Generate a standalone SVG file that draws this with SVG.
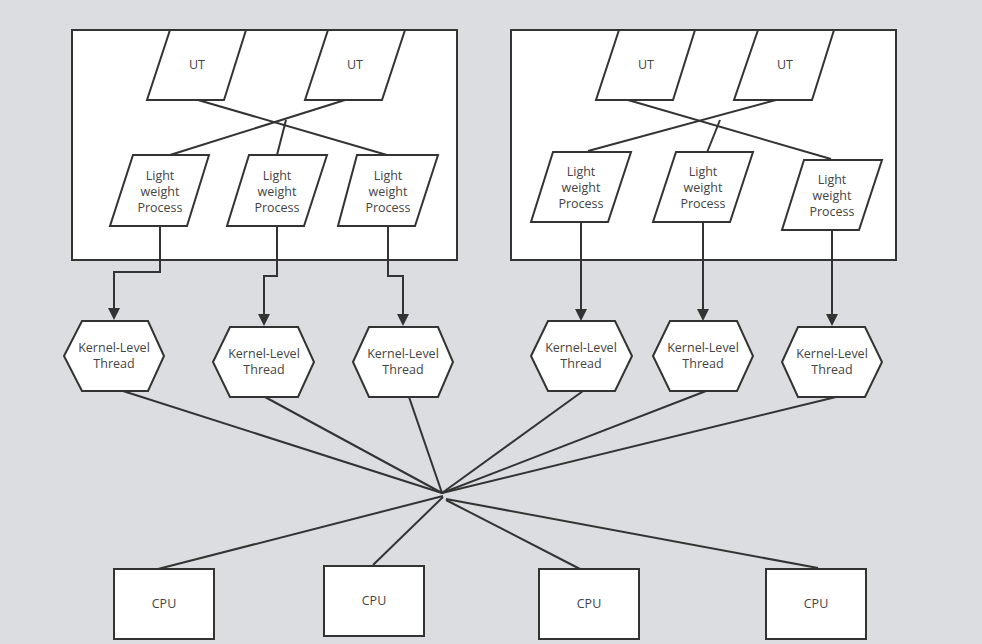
<svg xmlns="http://www.w3.org/2000/svg" width="982" height="644" viewBox="0 0 982 644">
<defs>
<style>
.s{fill:#fff;stroke:#333;stroke-width:2}
.c{fill:none;stroke:#333;stroke-width:2}
.a{fill:#333}
text{font-family:"Open Sans","Noto Sans","DejaVu Sans",sans-serif;font-size:12.5px;fill:#444;text-anchor:middle}
</style>
</defs>
<rect width="982" height="644" fill="#dcdde1"/>
<g id="container-left"><rect class="s" x="72" y="30" width="385" height="230"/></g>
<g id="container-right"><rect class="s" x="511" y="30" width="385" height="230"/></g>

<g id="connectors">
<path class="c" d="M198,100 L387,155"/>
<path class="c" d="M345,100 L170,155"/>
<path class="c" d="M286,120 L277,155"/>
<path class="c" d="M628,100 L831,159"/>
<path class="c" d="M776,100 L588,151"/>
<path class="c" d="M720,120 L706,155"/>
<path class="c" d="M160,226 V272 H114 V309"/>
<path class="c" d="M277,226 V276 H264 V315"/>
<path class="c" d="M388,226 V276 H403 V315"/>
<path class="c" d="M581,222 V310"/>
<path class="c" d="M703,222 V310"/>
<path class="c" d="M832,230 V315"/>
<path class="a" d="M108,308 L120,308 L114,320 Z"/>
<path class="a" d="M258,314 L270,314 L264,326 Z"/>
<path class="a" d="M397,314 L409,314 L403,326 Z"/>
<path class="a" d="M575,309 L587,309 L581,321 Z"/>
<path class="a" d="M697,309 L709,309 L703,321 Z"/>
<path class="a" d="M826,314 L838,314 L832,326 Z"/>
<path class="c" d="M123,391 L442,493"/>
<path class="c" d="M265,397 L442,493"/>
<path class="c" d="M409,397 L442,493"/>
<path class="c" d="M583,391 L442,493"/>
<path class="c" d="M706,391 L442,493"/>
<path class="c" d="M836,397 L442,493"/>
<path class="c" d="M158,569 L443,496"/>
<path class="c" d="M373,565 L443,497"/>
<path class="c" d="M580,569 L446,500"/>
<path class="c" d="M818,568 L446,499"/>
</g>

<g id="ut1"><path class="s" d="M170,30 H246 L224,100 H147 Z"/><text x="197" y="69">UT</text></g>
<g id="ut2"><path class="s" d="M328,30 H405 L382,100 H305 Z"/><text x="355" y="69">UT</text></g>
<g id="ut3"><path class="s" d="M619,30 H695 L673,100 H596 Z"/><text x="646" y="69">UT</text></g>
<g id="ut4"><path class="s" d="M758,30 H834 L812,100 H734 Z"/><text x="785" y="69">UT</text></g>

<g id="lwp1"><path class="s" d="M133,155 H209 L187,226 H110 Z"/><text x="160" y="180">Light</text><text x="160" y="196">weight</text><text x="160" y="212">Process</text></g>
<g id="lwp2"><path class="s" d="M249,155 H327 L304,226 H227 Z"/><text x="277" y="180">Light</text><text x="277" y="196">weight</text><text x="277" y="212">Process</text></g>
<g id="lwp3"><path class="s" d="M357,155 H438 L415,226 H338 Z"/><text x="388" y="180">Light</text><text x="388" y="196">weight</text><text x="388" y="212">Process</text></g>
<g id="lwp4"><path class="s" d="M553,152 H631 L608,222 H531 Z"/><text x="581" y="176">Light</text><text x="581" y="192">weight</text><text x="581" y="208">Process</text></g>
<g id="lwp5"><path class="s" d="M676,152 H753 L730,222 H653 Z"/><text x="703" y="176">Light</text><text x="703" y="192">weight</text><text x="703" y="208">Process</text></g>
<g id="lwp6"><path class="s" d="M804,160 H882 L859,230 H782 Z"/><text x="832" y="184">Light</text><text x="832" y="200">weight</text><text x="832" y="216">Process</text></g>

<g id="klt1"><path class="s" d="M64,356 L82,321 H148 L164,356 L148,391 H82 Z"/><text x="114" y="352">Kernel-Level</text><text x="114" y="368">Thread</text></g>
<g id="klt2"><path class="s" d="M213,362 L230,327 H298 L314,362 L298,397 H230 Z"/><text x="264" y="358">Kernel-Level</text><text x="264" y="374">Thread</text></g>
<g id="klt3"><path class="s" d="M353,362 L369,327 H438 L453,362 L438,397 H369 Z"/><text x="403" y="358">Kernel-Level</text><text x="403" y="374">Thread</text></g>
<g id="klt4"><path class="s" d="M531,356 L548,321 H615 L632,356 L615,391 H548 Z"/><text x="581" y="352">Kernel-Level</text><text x="581" y="368">Thread</text></g>
<g id="klt5"><path class="s" d="M653,356 L670,321 H737 L753,356 L737,391 H670 Z"/><text x="703" y="352">Kernel-Level</text><text x="703" y="368">Thread</text></g>
<g id="klt6"><path class="s" d="M782,362 L798,327 H865 L882,362 L865,397 H798 Z"/><text x="832" y="358">Kernel-Level</text><text x="832" y="374">Thread</text></g>

<g id="cpu1"><rect class="s" x="114" y="569" width="100" height="70"/><text x="164" y="608">CPU</text></g>
<g id="cpu2"><rect class="s" x="324" y="566" width="100" height="70"/><text x="374" y="605">CPU</text></g>
<g id="cpu3"><rect class="s" x="539" y="569" width="100" height="70"/><text x="589" y="608">CPU</text></g>
<g id="cpu4"><rect class="s" x="766" y="569" width="100" height="70"/><text x="816" y="608">CPU</text></g>
</svg>
